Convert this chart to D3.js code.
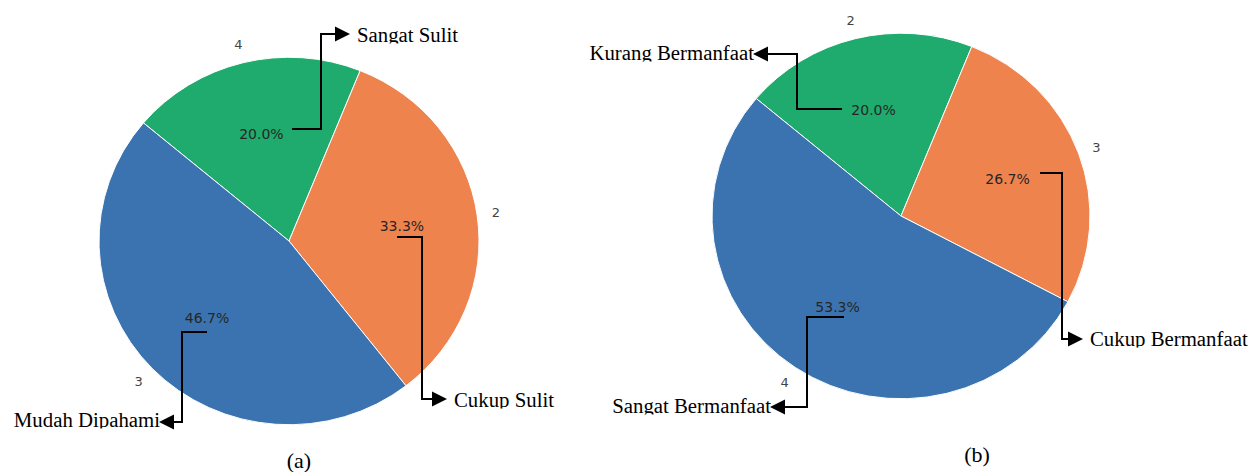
<!DOCTYPE html>
<html>
<head>
<meta charset="utf-8">
<script src="https://cdn.jsdelivr.net/npm/d3@7"></script>
<style>
  body { margin: 0; background: #fff; }
  svg { display: block; }
</style>
</head>
<body>
<svg id="chart" width="1252" height="472"></svg>
<script>
//Data for the two pies, wedges in drawing order (clockwise from the start angle)
const leftCounts = [3, 5, 7];
const leftLabels = ["4", "2", "3"];
const leftNames = ["Sangat Sulit", "Cukup Sulit", "Mudah Dipahami"];

const rightCounts = [3, 4, 8];
const rightLabels = ["2", "3", "4"];
const rightNames = ["Kurang Bermanfaat", "Cukup Bermanfaat", "Sangat Bermanfaat"];

const captions = ["(a)", "(b)"];

const COLORS = ["#1fab6d", "#ef834e", "#3b73b0"];
const W = 1252, H = 472;
const START = -50 * Math.PI / 180; //green wedge starts here in both pies
const SQUASH = 0.967; //pies in the picture are slightly flattened

const svg = d3.select("#chart");
const defs = svg.append("defs");

//Callout shapes, as offsets from the pie centre:
//[startX, startY, elbowX, endY, tipX, direction, textY]
const leftCallouts = [
    [3, -112, 32, -207, 61, 1, -199],
    [108, -4, 133, 158, 158, 1, 166],
    [-82, 91, -107, 181, -130, -1, 186]
];
const rightCallouts = [
    [-59, -107, -104, -162, -148, -1, -156],
    [139, -43, 161, 123, 182, 1, 130],
    [-57, 101, -94, 191, -131, -1, 197]
];

function drawPie(opts) {
    const r = opts.r;
    const g = svg.append("g")
	.attr("transform", "translate(" + opts.cx + "," + opts.cy + ")");

    const pie = d3.pie()
	.sort(null)
	.startAngle(START)
	.endAngle(START + 2 * Math.PI);
    const arcs = pie(opts.counts);
    const total = d3.sum(opts.counts);

    const arc = d3.arc().innerRadius(0).outerRadius(r);
    const labelArc = d3.arc().innerRadius(r * 1.1).outerRadius(r * 1.1);
    const pctArc = d3.arc().innerRadius(r * 0.6).outerRadius(r * 0.6);

    //Wedges, flattened a little in y
    g.append("g")
	.attr("transform", "scale(1," + SQUASH + ")")
	.selectAll("path")
	.data(arcs)
	.enter().append("path")
	.attr("d", arc)
	.attr("fill", (d, i) => COLORS[i])
	.attr("stroke", "#fff")
	.attr("stroke-width", 1);

    //Outer category labels
    g.selectAll("text.cat")
	.data(arcs)
	.enter().append("text")
	.attr("class", "cat")
	.attr("x", d => labelArc.centroid(d)[0])
	.attr("y", d => labelArc.centroid(d)[1] * SQUASH)
	.attr("text-anchor", "middle")
	.attr("dominant-baseline", "central")
	.style("font-family", "DejaVu Sans")
	.style("font-size", "13px")
	.style("fill", "#444")
	.text((d, i) => opts.labels[i]);

    //Percentages
    g.selectAll("text.pct")
	.data(arcs)
	.enter().append("text")
	.attr("class", "pct")
	.attr("x", d => pctArc.centroid(d)[0])
	.attr("y", d => pctArc.centroid(d)[1] * SQUASH)
	.attr("text-anchor", "middle")
	.attr("dominant-baseline", "central")
	.style("font-family", "DejaVu Sans")
	.style("font-size", "14px")
	.style("fill", "#262626")
	.text(d => (d.value / total * 100).toFixed(1) + "%");

    //Elbow callouts with arrowheads and the category names
    opts.callouts.forEach((c, i) => {
	const [sx, sy, ex, ey, tx, dir, ty] = c;
	const base = tx - dir * 15;
	g.append("path")
	    .attr("d", d3.line()([[sx, sy], [ex, sy], [ex, ey], [base, ey]]))
	    .attr("fill", "none")
	    .attr("stroke", "#000")
	    .attr("stroke-width", 2);
	g.append("path")
	    .attr("d", d3.line()([[base, ey - 7.5], [tx, ey], [base, ey + 7.5]]) + "Z")
	    .attr("fill", "#000");

	//Text boxes in the picture cut the descenders off
	const id = opts.id + "clip" + i;
	defs.append("clipPath").attr("id", id)
	    .append("rect")
	    .attr("x", opts.cx - W).attr("y", opts.cy + ty - 40)
	    .attr("width", 2 * W).attr("height", 41.5);
	const tX = dir > 0 ? tx + 7 : tx + 1;
	svg.append("text")
	    .attr("clip-path", "url(#" + id + ")")
	    .attr("x", opts.cx + tX)
	    .attr("y", opts.cy + ty)
	    .attr("text-anchor", dir > 0 ? "start" : "end")
	    .style("font-family", "Liberation Serif")
	    .style("font-size", "20.8px")
	    .style("fill", "#000")
	    .text(opts.names[i]);
    });

    svg.append("text")
	.attr("x", opts.cx + opts.capDx)
	.attr("y", opts.capY)
	.attr("text-anchor", "middle")
	.style("font-family", "Liberation Serif")
	.style("font-size", "22px")
	.style("fill", "#000")
	.text(opts.caption);
}

drawPie({
    id: "a", cx: 289, cy: 241, r: 190,
    counts: leftCounts, labels: leftLabels, names: leftNames,
    callouts: leftCallouts, caption: captions[0], capDx: 10, capY: 468
});

drawPie({
    id: "b", cx: 901, cy: 216, r: 189,
    counts: rightCounts, labels: rightLabels, names: rightNames,
    callouts: rightCallouts, caption: captions[1], capDx: 76, capY: 462
});
</script>
</body>
</html>
